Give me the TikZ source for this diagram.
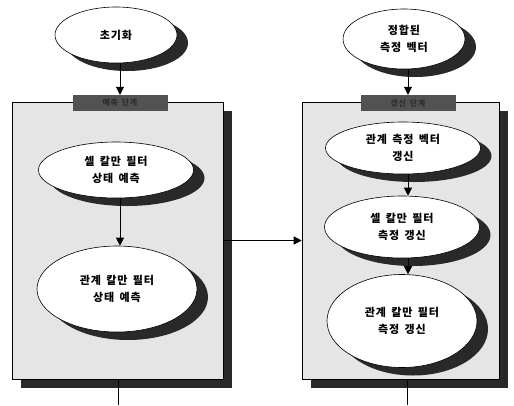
\documentclass[tikz,border=0pt]{standalone}
\usepackage{fontspec}
\newfontfamily\kr[LetterSpace=8,WordSpace=1.6]{Noto Sans CJK KR}
\usetikzlibrary{shapes.geometric,arrows.meta}
\definecolor{shadowc}{gray}{0.16}
\tikzset{
  ell/.style={ellipse, draw=black, line width=0.6pt, fill=white, inner sep=0pt, align=center,
    font=\kr\bfseries\fontsize{11}{17}\selectfont},
  panel/.style={rectangle, draw=black, line width=0.6pt, fill=black!10, inner sep=0pt},
  tab/.style={rectangle, fill=black!68, inner sep=0pt, minimum width=95pt, minimum height=16pt,
    font=\kr\bfseries\fontsize{8}{8}\selectfont, text=black!82},
  arr/.style={line width=0.8pt, -{Triangle[length=8pt,width=8pt]}},
  ln/.style={line width=0.8pt}
}
% shadowed ellipse: name, x, y, width, height, text
\newcommand\shell[6]{%
  \fill[shadowc] (#2+11,#3+8) ellipse [x radius=#4/2, y radius=#5/2];
  \node[ell, minimum width=#4pt, minimum height=#5pt] (#1) at (#2,#3) {#6};}
% shadowed panel: name, x, y, width, height
\newcommand\shpanel[5]{%
  \fill[shadowc] (#2-#4/2+9,#3-#5/2+9) rectangle (#2+#4/2+9,#3+#5/2+9);
  \node[panel, minimum width=#4pt, minimum height=#5pt] (#1) at (#2,#3) {};}
\begin{document}
\begin{tikzpicture}[x=1pt,y=-1pt]
\useasboundingbox[fill=white] (0,0) rectangle (514,405);
% panels
\shpanel{L}{117.5}{240.5}{211}{277}
\shpanel{R}{400.5}{240.5}{197}{277}
\node[tab] (tL) at (120,103) {예측 단계};
\node[tab] (tR) at (408,103) {갱신 단계};
% left column
\shell{init}{116}{35}{122}{56}{초기화}
\shell{l1}{116}{170}{155}{56}{셀 칼만 필터\\상태 예측}
\shell{l2}{117}{289}{160}{86}{관계 칼만 필터\\상태 예측}
% right column
\shell{m0}{404}{39}{122}{60}{정합된\\측정 벡터}
\shell{r1}{403}{148}{155}{52}{관계 측정 벡터\\갱신}
\shell{r2}{402}{227}{155}{62}{셀 칼만 필터\\측정 갱신}
\shell{r3}{402}{321}{150}{93}{관계 칼만 필터\\측정 갱신}
% connectors
\draw[arr] (init.south -| tL.north) -- (tL.north);
\draw[arr] (l1.south -| tL.north) -- (l2.north -| tL.north);
\draw[arr] (m0.south -| tR.north) -- (tR.north);
\draw[arr] (r1.south -| tR.north) -- (r2.north -| tR.north);
\draw[arr] (r2.south -| tR.north) -- (r3.north -| tR.north);
\draw[arr] (L.east) -- (R.west);
\coordinate (Lout) at (118,405);
\coordinate (Rout) at (407,405);
\draw[ln] (L.south -| Lout) -- (Lout);
\draw[ln] (R.south -| Rout) -- (Rout);
\end{tikzpicture}
\end{document}
